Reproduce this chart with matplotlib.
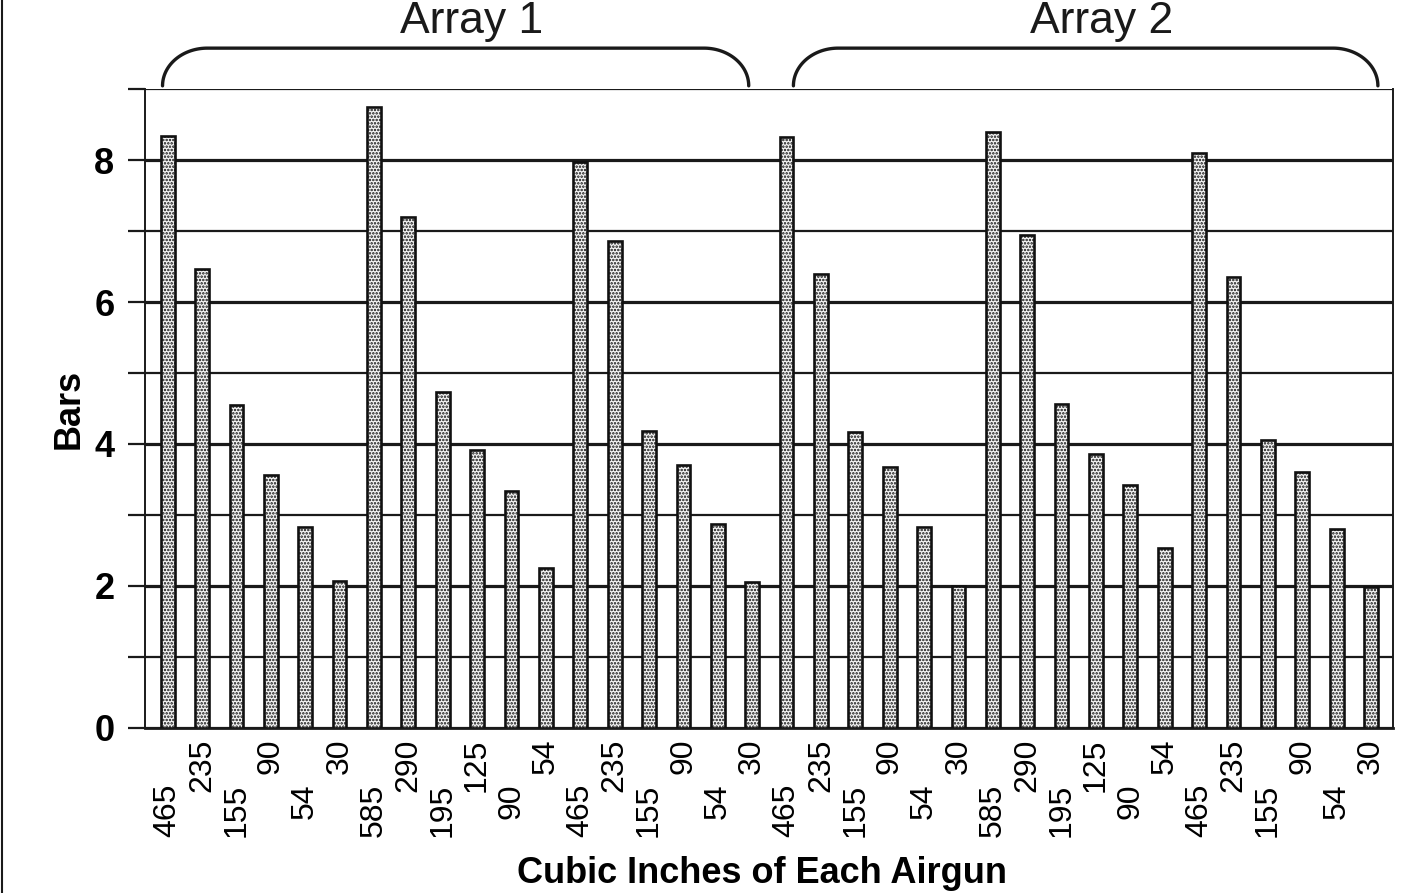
import matplotlib
matplotlib.use('Agg')
import matplotlib.pyplot as plt
from matplotlib.lines import Line2D
import matplotlib.transforms as mtransforms
import numpy as np

plt.rcParams['font.family'] = ['Liberation Sans', 'DejaVu Sans']
plt.rcParams['hatch.linewidth'] = 1.2

# airgun volumes (cubic inches), same layout in both arrays
array_1_guns = ['465', '235', '155', '90', '54', '30',
                '585', '290', '195', '125', '90', '54',
                '465', '235', '155', '90', '54', '30']
array_2_guns = ['465', '235', '155', '90', '54', '30',
                '585', '290', '195', '125', '90', '54',
                '465', '235', '155', '90', '54', '30']

# peak pressure in bars
array_1_bars = [8.34, 6.46, 4.55, 3.57, 2.83, 2.07,
                8.75, 7.20, 4.73, 3.92, 3.34, 2.26,
                7.97, 6.86, 4.18, 3.71, 2.88, 2.05]
array_2_bars = [8.33, 6.39, 4.17, 3.67, 2.83, 2.00,
                8.40, 6.95, 4.57, 3.86, 3.42, 2.53,
                8.10, 6.35, 4.05, 3.61, 2.80, 1.98]

group_names = ['Array 1', 'Array 2']


def draw_bracket(ax, x0, x1, label, rx=1.3, ybot=1.005, ytop=1.064):
    # rounded bracket above the axes: x in data, y in axes fraction
    trans = mtransforms.blended_transform_factory(ax.transData, ax.transAxes)
    ry = ytop - ybot
    t = np.linspace(0, np.pi / 2, 40)
    left_x = (x0 + rx) - rx * np.cos(t)
    left_y = ybot + ry * np.sin(t)
    right_x = (x1 - rx) + rx * np.cos(t[::-1])
    right_y = ybot + ry * np.sin(t[::-1])
    xs = np.concatenate([left_x, right_x])
    ys = np.concatenate([left_y, right_y])
    ax.add_line(Line2D(xs, ys, transform=trans, color='#1a1a1a', lw=2.4,
                       clip_on=False, solid_capstyle='round'))
    ax.text((x0 + x1) / 2 + 0.47, 1.0876, label, transform=trans,
            ha='center', va='baseline', fontsize=32, color='#1a1a1a')


def main():
    labels = array_1_guns + array_2_guns
    values = array_1_bars + array_2_bars
    x = np.arange(len(values))

    fig = plt.figure(figsize=(14.01, 8.93), dpi=100)
    ax = fig.add_axes([0.1035, 0.1848, 0.8908, 0.7155])

    ax.bar(x, values, width=0.4, facecolor='#f4f4f4', edgecolor='#111111',
           linewidth=1.9, hatch='.....', zorder=3)

    ax.set_xlim(-0.66, len(values) - 1 + 0.64)
    ax.set_ylim(0, 9)

    # y axis: labelled even ticks, unlabelled odd ticks, all with gridlines
    ax.set_yticks([0, 2, 4, 6, 8])
    ax.set_yticks([1, 3, 5, 7, 9], minor=True)
    ax.tick_params(axis='y', which='both', direction='out', length=12,
                   width=1.6, color='#1a1a1a', pad=10)
    ax.tick_params(axis='y', which='major', labelsize=26)
    for lab in ax.get_yticklabels():
        lab.set_fontweight('bold')
    ax.yaxis.grid(True, which='major', color='#1a1a1a', lw=2.3, zorder=1)
    ax.yaxis.grid(True, which='minor', color='#1a1a1a', lw=1.6, zorder=1)

    # x axis: rotated labels, staggered in two rows
    ax.set_xticks(x)
    ax.set_xticklabels(labels, rotation=90, fontsize=23, va='top')
    ax.tick_params(axis='x', length=0)
    for i, tick in enumerate(ax.xaxis.get_major_ticks()):
        tick.set_pad(40 if i % 2 == 0 else 7.5)

    for side in ['left', 'right', 'bottom']:
        ax.spines[side].set_color('#1a1a1a')
        ax.spines[side].set_linewidth(1.4)
    ax.spines['bottom'].set_linewidth(2.0)
    ax.spines['top'].set_visible(False)

    ax.set_ylabel('Bars', fontsize=26, fontweight='bold')
    ax.yaxis.set_label_coords(-0.047, 0.5)
    ax.set_xlabel('Cubic Inches of Each Airgun', fontsize=26, fontweight='bold')
    ax.xaxis.set_label_coords(0.494, -0.2)

    n1 = len(array_1_bars)
    n2 = len(array_2_bars)
    draw_bracket(ax, 0 - 0.15, n1 - 1 - 0.1, group_names[0])
    draw_bracket(ax, n1 + 0.2, n1 + n2 - 1 + 0.2, group_names[1])

    # scanned page edge on the left
    fig.add_artist(Line2D([0.0015, 0.0015], [0, 1], transform=fig.transFigure,
                          color='#1a1a1a', lw=1.5))

    fig.savefig('out.png', dpi=100)


if __name__ == '__main__':
    main()
